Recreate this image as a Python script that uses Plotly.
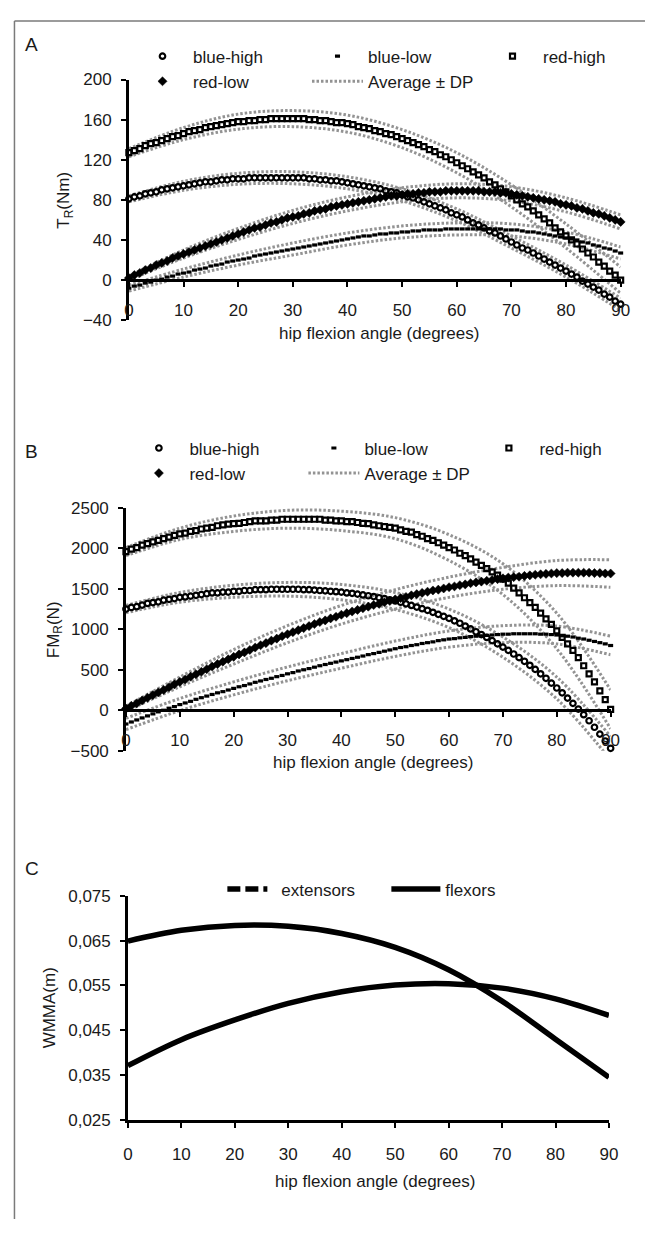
import plotly.graph_objects as go

# page is 657x1237; the browser body keeps an 8px margin on the left/top
PAGE_W, PAGE_H = 657, 1237
OFF = 8
W, H = PAGE_W - OFF, PAGE_H - 2 * OFF
FONT = "Liberation Sans, Arial, Helvetica, sans-serif"
INK = "#1a1a1a"
GRAY = "#939393"
FS = 17

# ---------------- data ----------------
angle = list(range(0, 91))          # hip flexion angle, 1 degree steps
angle10 = list(range(0, 91, 10))    # 10 degree steps

# Panel A: T_R (Nm)
a_blue_high = [81,83,84,86,87,88,90,91,92,93,
               94,95,96,97,98,98,99,100,100,101,
               101,101,102,102,102,102,102,102,102,102,
               102,102,102,101,101,100,100,99,99,98,
               97,96,95,94,93,92,91,89,88,87,
               85,83,82,80,78,76,74,72,70,67,
               65,63,60,57,55,52,49,47,44,41,
               38,35,32,30,27,24,21,18,15,12,
               9,6,3,-1,-4,-7,-10,-14,-17,-21,
               -24]
a_blue_low = [-8,-6,-5,-3,-2,0,1,3,4,6,
              7,8,10,11,12,14,15,16,18,19,
              20,21,22,24,25,26,27,28,29,30,
              31,32,33,34,35,36,37,38,39,40,
              41,42,43,44,44,45,46,46,47,47,
              48,48,49,49,50,50,50,50,51,51,
              51,51,51,51,51,51,51,51,51,50,
              50,50,49,48,48,47,46,45,44,43,
              42,41,40,38,37,35,34,32,31,29,
              27]
a_red_high = [127,129,131,134,136,137,139,141,143,144,
              146,148,149,150,152,153,154,155,156,157,
              158,158,159,159,160,160,161,161,161,161,
              161,161,161,160,160,159,159,158,157,157,
              156,155,153,152,151,149,148,146,145,143,
              141,139,137,135,133,130,128,125,123,120,
              117,114,111,108,105,102,98,95,91,88,
              84,80,76,73,69,65,61,57,52,48,
              44,40,36,31,27,23,18,14,9,5,
              0]
a_red_low = [2,5,7,10,12,15,17,19,22,24,
             26,28,30,32,34,36,38,40,42,44,
             46,48,50,52,53,55,57,58,60,62,
             63,64,66,67,69,70,71,73,74,75,
             76,77,78,79,80,81,82,83,84,84,
             85,86,86,87,87,88,88,88,89,89,
             89,89,89,89,89,88,88,88,87,87,
             86,85,84,83,82,81,80,79,78,76,
             75,74,72,71,69,67,66,64,62,60,
             58]
# standard deviations (DP) at 0,10,...,90 degrees
a_sd_blue_high = [3, 4.5, 5.5, 6, 6, 6, 6, 6, 6, 6]
a_sd_blue_low = [3, 4, 5, 6, 6, 6, 6, 6, 6, 6]
a_sd_red_high = [4, 6, 7.5, 8, 8.5, 9, 10, 11, 12, 13]
a_sd_red_low = [2, 4, 5.5, 6.5, 7, 7, 7, 7, 7, 7]

# Panel B: FM_R (N)
b_blue_high = [1250,1270,1280,1300,1320,1330,1340,1360,1370,1380,
               1395,1400,1410,1420,1430,1440,1450,1450,1460,1460,
               1470,1470,1480,1480,1490,1490,1490,1495,1495,1495,
               1495,1495,1495,1490,1490,1485,1480,1475,1470,1465,
               1460,1450,1445,1435,1425,1415,1405,1390,1380,1365,
               1350,1335,1315,1295,1275,1255,1235,1210,1185,1160,
               1135,1105,1075,1040,1005,970,935,900,860,820,
               780,740,695,650,605,555,505,450,395,335,
               275,215,150,85,15,-55,-130,-210,-295,-380,
               -470]
b_blue_low = [-170,-145,-120,-95,-70,-45,-20,0,25,45,
              70,90,110,135,155,175,195,215,230,250,
              270,290,305,325,345,362,380,395,415,430,
              450,465,485,500,515,532,550,565,580,595,
              610,625,640,655,670,687,700,715,730,745,
              760,775,785,800,810,825,835,845,860,870,
              880,885,895,900,910,915,920,925,930,935,
              940,940,945,945,945,945,945,940,940,935,
              930,920,915,905,890,880,865,850,835,820,
              800]
b_red_high = [1960,1990,2010,2040,2060,2080,2100,2120,2140,2160,
              2180,2190,2210,2220,2240,2250,2260,2280,2290,2300,
              2305,2310,2320,2330,2340,2340,2340,2350,2350,2360,
              2360,2360,2360,2360,2360,2360,2360,2350,2350,2340,
              2340,2330,2330,2320,2310,2305,2290,2280,2270,2260,
              2250,2230,2210,2200,2170,2150,2120,2100,2070,2040,
              2010,1980,1940,1910,1870,1830,1790,1750,1710,1670,
              1620,1570,1510,1450,1390,1330,1270,1200,1130,1060,
              980,900,820,740,650,550,450,350,240,130,
              10]
b_red_low = [20,55,85,120,155,187,220,250,285,320,
             350,380,415,445,475,507,540,570,600,630,
             660,690,715,745,775,803,830,860,885,915,
             940,965,990,1015,1040,1065,1090,1110,1135,1155,
             1180,1200,1220,1240,1260,1280,1300,1315,1335,1350,
             1370,1385,1400,1420,1435,1450,1465,1480,1490,1505,
             1520,1530,1545,1555,1570,1580,1590,1600,1610,1620,
             1630,1640,1645,1650,1660,1667,1675,1680,1685,1690,
             1695,1695,1700,1700,1700,1700,1700,1695,1695,1690,
             1690]
b_sd_blue_high = [45, 60, 75, 85, 95, 105, 115, 125, 135, 145]
b_sd_blue_low = [70, 75, 80, 85, 90, 95, 100, 105, 110, 115]
b_sd_red_high = [50, 70, 95, 110, 120, 130, 160, 190, 220, 240]
b_sd_red_low = [30, 60, 90, 105, 115, 120, 125, 135, 155, 170]

# Panel C: WMMA (m)
c_extensors = [0.0649, 0.0673, 0.0684, 0.0682, 0.0666, 0.0635, 0.0585, 0.0515, 0.0430, 0.0345]
c_flexors = [0.0371, 0.0429, 0.0473, 0.0510, 0.0536, 0.0551, 0.0554, 0.0544, 0.0520, 0.0483]

series_names = ["blue-high", "blue-low", "red-high", "red-low"]
band_name = "Average ± DP"

a_ticks = [-40, 0, 40, 80, 120, 160, 200]
b_ticks = [-500, 0, 500, 1000, 1500, 2000, 2500]
c_ticks = [0.025, 0.035, 0.045, 0.055, 0.065, 0.075]
c_ticktext = ["0,025", "0,035", "0,045", "0,055", "0,065", "0,075"]
x_ticks = list(range(0, 91, 10))

x_title = "hip flexion angle (degrees)"
a_y_title = "T<sub>R</sub>(Nm)"
b_y_title = "FM<sub>R</sub>(N)"
c_y_title = "WMMA(m)"

# ---------------- helpers (page pixel -> paper fraction) ----------------
def fx(px):
    return (px - OFF) / W

def fy(py):
    return 1 - (py - OFF) / H

marker_styles = {
    "blue-high": dict(symbol="circle-open", size=5.5, color="black", line=dict(width=2.2, color="black")),
    "blue-low": dict(symbol="line-ew", size=3.6, color="black", line=dict(width=3.2, color="black")),
    "red-high": dict(symbol="square-open", size=5, color="black", line=dict(width=2.2, color="black")),
    "red-low": dict(symbol="diamond", size=7, color="black", line=dict(width=0.5, color="black")),
}

fig = go.Figure()

def add_panel(means, sds, xa, ya, leg):
    first = True
    for name, m, sd in zip(series_names, means, sds):
        for sign in (1, -1):
            yb = [m[d] + sign * s for d, s in zip(angle10, sd)]
            fig.add_trace(go.Scatter(
                x=angle10, y=yb, mode="lines", name=band_name,
                line=dict(color=GRAY, width=3, dash="2.5px,2px", shape="spline"),
                xaxis=xa, yaxis=ya, legend=leg, showlegend=first, legendrank=5,
                hoverinfo="skip"))
            first = False
    for i, (name, m) in enumerate(zip(series_names, means)):
        fig.add_trace(go.Scatter(
            x=angle, y=m, mode="markers", name=name,
            marker=marker_styles[name], cliponaxis=False,
            xaxis=xa, yaxis=ya, legend=leg, legendrank=i + 1))

add_panel([a_blue_high, a_blue_low, a_red_high, a_red_low],
          [a_sd_blue_high, a_sd_blue_low, a_sd_red_high, a_sd_red_low], "x", "y", "legend")
add_panel([b_blue_high, b_blue_low, b_red_high, b_red_low],
          [b_sd_blue_high, b_sd_blue_low, b_sd_red_high, b_sd_red_low], "x2", "y2", "legend2")

# Panel C
fig.add_trace(go.Scatter(x=angle10, y=c_extensors, mode="lines", name="extensors",
                         line=dict(color="black", width=5.5, shape="spline"),
                         xaxis="x3", yaxis="y3", legend="legend3", showlegend=False))
fig.add_trace(go.Scatter(x=[None], y=[None], mode="lines", name="extensors",
                         line=dict(color="black", width=5.5, dash="13px,5px,13px,5px,4px,40px"),
                         xaxis="x3", yaxis="y3", legend="legend3", legendrank=1))
fig.add_trace(go.Scatter(x=angle10, y=c_flexors, mode="lines", name="flexors",
                         line=dict(color="black", width=5.5, shape="spline"),
                         xaxis="x3", yaxis="y3", legend="legend3", legendrank=2))

# ---------------- layout ----------------
tickfont = dict(family=FONT, size=FS, color=INK)
common = dict(showline=True, linecolor="black", linewidth=2.5, ticks="outside", ticklen=5,
              tickwidth=2, tickcolor="black", showgrid=False, zeroline=False,
              tickfont=tickfont, fixedrange=True)

xA = [fx(127), fx(632)]; yA = [fy(316), fy(71.5)]
xB = [fx(124), fx(621.7)]; yB = [fy(753.3), fy(506.7)]
xC = [fx(126), fx(620)]; yC = [fy(1128.3), fy(900.7)]

def zero_pos(dom, rng):
    return dom[0] + (0 - rng[0]) / (rng[1] - rng[0]) * (dom[1] - dom[0])

rA = [-40, 200]; rB = [-500, 2500]; rC = [0.025, 0.075]

legfont = dict(family=FONT, size=FS, color=INK)
fig.update_layout(
    width=W, height=H, margin=dict(l=0, r=0, t=0, b=0),
    paper_bgcolor="white", plot_bgcolor="rgba(0,0,0,0)",
    font=dict(family=FONT, size=FS, color=INK),
    xaxis=dict(domain=xA, range=[0, 90], anchor="free", position=zero_pos(yA, rA),
               tickvals=x_ticks, ticklabelstandoff=9, **common),
    yaxis=dict(domain=yA, range=rA, anchor="x", tickvals=a_ticks, ticklabelstandoff=6, **common),
    xaxis2=dict(domain=xB, range=[0, 90], anchor="free", position=zero_pos(yB, rB),
                tickvals=x_ticks, ticklabelstandoff=9, **common),
    yaxis2=dict(domain=yB, range=rB, anchor="x2", tickvals=b_ticks, ticklabelstandoff=6, **common),
    xaxis3=dict(domain=xC, range=[0, 90], anchor="y3", tickvals=x_ticks,
                ticklabelstandoff=12, **common),
    yaxis3=dict(domain=yC, range=rC, anchor="x3", tickvals=c_ticks, ticktext=c_ticktext,
                ticklabelstandoff=6, **common),
    legend=dict(orientation="h", x=fx(130.5), xanchor="left", y=fy(30), yanchor="top",
                font=legfont, itemwidth=51,
                entrywidth=109, entrywidthmode="pixels", bgcolor="rgba(0,0,0,0)"),
    legend2=dict(orientation="h", x=fx(126.5), xanchor="left", y=fy(428), yanchor="top",
                 font=legfont, itemwidth=51,
                 entrywidth=109, entrywidthmode="pixels", bgcolor="rgba(0,0,0,0)"),
    legend3=dict(orientation="h", x=fx(223), xanchor="left", y=fy(876), yanchor="top",
                 font=legfont, itemwidth=49,
                 entrywidth=100, entrywidthmode="pixels", bgcolor="rgba(0,0,0,0)"),
    showlegend=True,
)

def note(text, px, py, size=FS, angle=0):
    fig.add_annotation(text=text, x=fx(px), y=fy(py), xref="paper", yref="paper",
                       showarrow=False, xanchor="center", yanchor="middle", textangle=angle,
                       font=dict(family=FONT, size=size, color=INK))

note("A", 27.5, 36, size=19)
note("B", 27.5, 449, size=19)
note("C", 28, 872.5, size=19)
note(x_title, 384, 329)
note(x_title, 378, 765)
note(x_title, 380, 1191)
note(a_y_title, 62, 194, angle=-90)
note(b_y_title, 51, 630, angle=-90)
note(c_y_title, 45, 1015, angle=-90)

# outer frame: only its left and top edges lie inside the picture
frame = dict(color="#7a7a7a", width=1.5)
fig.add_shape(type="line", xref="paper", yref="paper", x0=fx(9.5), x1=fx(9.5), y0=0, y1=fy(12),
              line=frame, layer="below")
fig.add_shape(type="line", xref="paper", yref="paper", x0=fx(9.5), x1=1, y0=fy(12), y1=fy(12),
              line=frame, layer="below")

fig.write_html("out.html", config={"displayModeBar": False})
